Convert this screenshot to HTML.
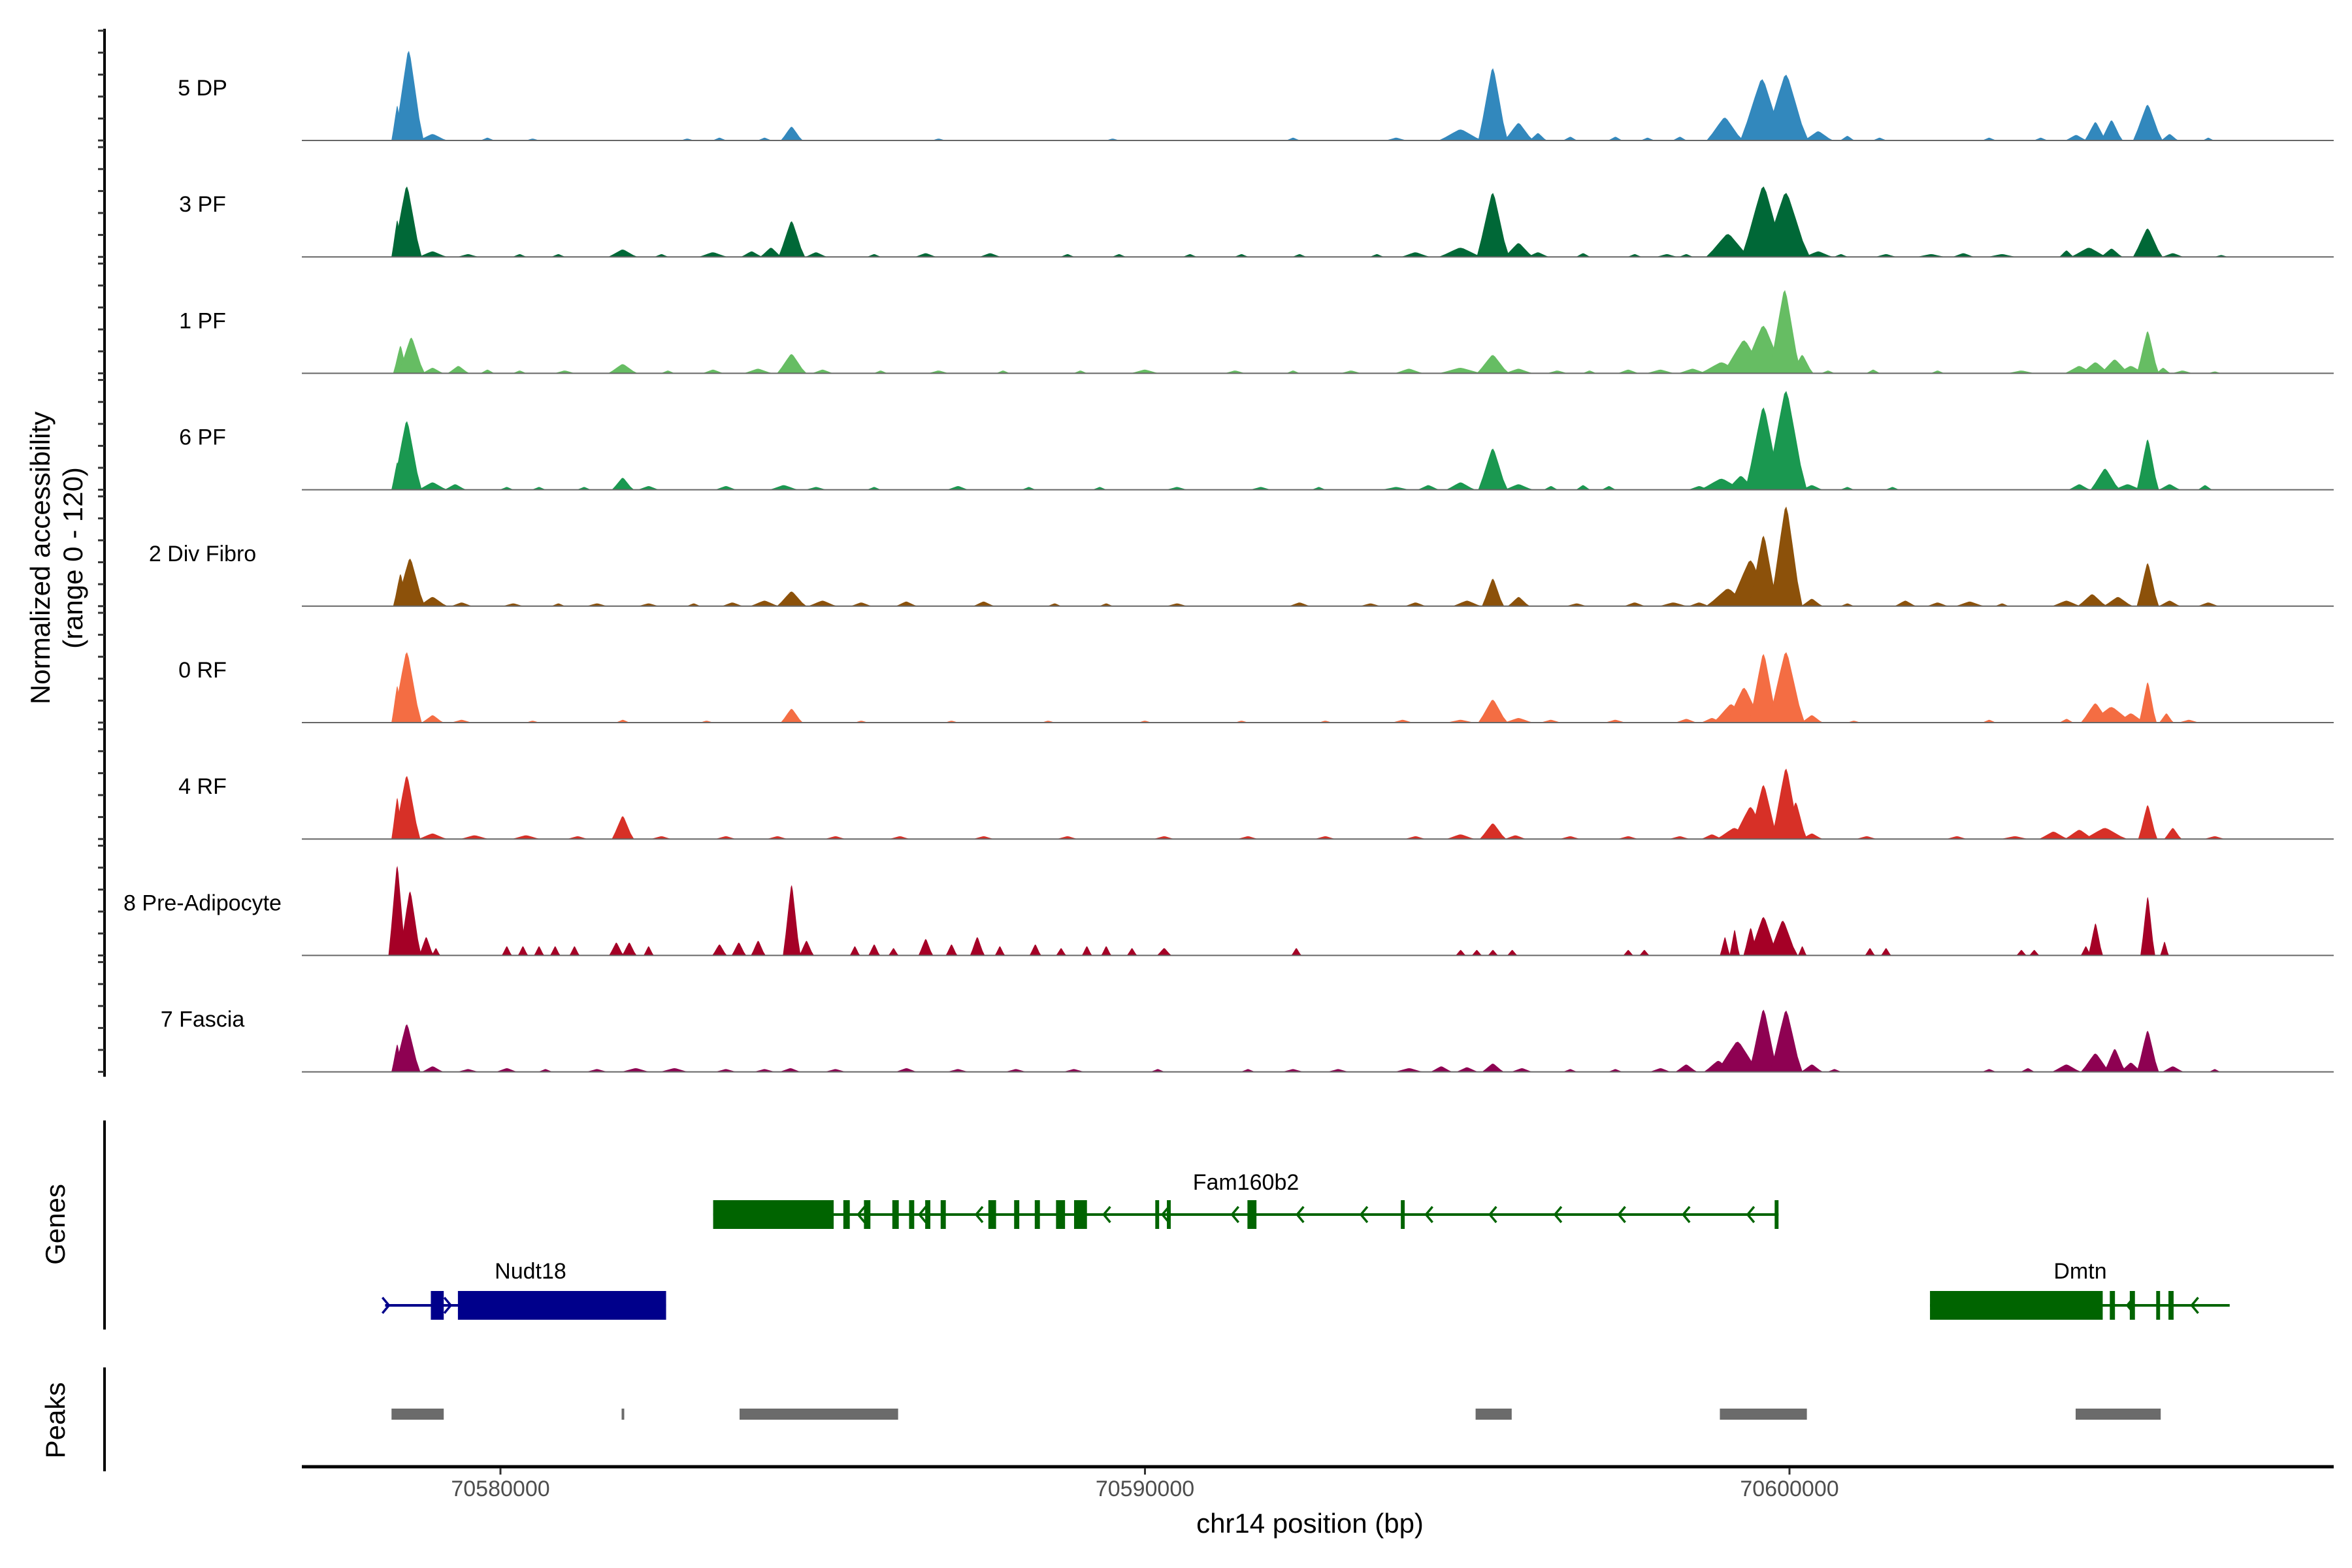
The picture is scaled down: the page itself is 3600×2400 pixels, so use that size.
<!DOCTYPE html>
<html><head><meta charset="utf-8"><style>
html,body{margin:0;padding:0;background:#fff;}
svg{display:block;font-family:"Liberation Sans",Arial,sans-serif;}
</style></head><body>
<svg id="chart" width="3600" height="2400" viewBox="0 0 3600 2400" xmlns="http://www.w3.org/2000/svg">
<g id="yaxis"></g>
<g id="tracks"></g>
<g id="genes"></g>
<g id="peaks"></g>
<g id="xaxis"></g>
<text x="65" y="854" font-size="42" text-anchor="middle" transform="rotate(-90 65 854)" dominant-baseline="middle">Normalized accessibility</text>
<text x="115" y="854" font-size="42" text-anchor="middle" transform="rotate(-90 115 854)" dominant-baseline="middle">(range 0 - 120)</text>
<text x="88" y="1874" font-size="42" text-anchor="middle" transform="rotate(-90 88 1874)" dominant-baseline="middle">Genes</text>
<text x="88" y="2174" font-size="42" text-anchor="middle" transform="rotate(-90 88 2174)" dominant-baseline="middle">Peaks</text>
<text x="2005" y="2346" font-size="42" text-anchor="middle">chr14 position (bp)</text>
</svg>
<script>
// positions in kb offset from chr14:70,570,000 ; peaks as [center_kb, height, halfwidth_kb]
const trackNames = ["5 DP","3 PF","1 PF","6 PF","2 Div Fibro","0 RF","4 RF","8 Pre-Adipocyte","7 Fascia"];
const trackColors = ["#3288bd","#006837","#66bd63","#1a9850","#8c510a","#f46d43","#d73027","#a50026","#8e0152"];
const peaks5DP = [[8.4,38,0.08],[8.58,98,0.2],[8.95,7,0.2],[9.8,3,0.1],[10.5,2,0.1],[12.9,2,0.1],[13.4,3,0.1],[14.1,3,0.1],[14.52,15,0.15],[16.8,2,0.1],[19.5,2,0.1],[22.3,3,0.1],[23.9,3,0.15],[24.9,12,0.3],[25.4,79,0.2],[25.8,19,0.2],[26.1,8,0.12],[26.6,4,0.1],[27.3,4,0.1],[27.8,3,0.1],[28.3,4,0.1],[29.0,25,0.25],[29.58,67,0.3],[29.95,72,0.3],[30.45,10,0.2],[30.9,5,0.1],[31.4,3,0.1],[33.1,3,0.1],[33.9,3,0.1],[34.45,6,0.15],[34.75,20,0.15],[35.0,22,0.15],[35.56,39,0.2],[35.9,7,0.12],[36.5,3,0.08]];
const peaks3PF = [[8.4,40,0.08],[8.55,77,0.2],[8.95,6,0.2],[9.5,3,0.15],[10.3,3,0.1],[10.9,3,0.1],[11.9,8,0.2],[12.5,3,0.1],[13.3,5,0.2],[13.9,6,0.15],[14.2,10,0.15],[14.52,39,0.18],[14.9,5,0.15],[15.8,3,0.1],[16.6,4,0.15],[17.6,4,0.15],[18.8,3,0.1],[19.6,3,0.1],[20.7,3,0.1],[21.5,3,0.1],[22.4,3,0.1],[23.6,3,0.1],[24.2,5,0.2],[24.9,10,0.3],[25.4,70,0.22],[25.8,15,0.2],[26.1,5,0.15],[26.8,4,0.1],[27.6,3,0.1],[28.1,3,0.15],[28.4,3,0.1],[29.05,25,0.3],[29.6,77,0.3],[29.95,70,0.32],[30.45,6,0.2],[30.8,3,0.1],[31.5,3,0.15],[32.2,3,0.2],[32.7,4,0.15],[33.3,3,0.2],[34.3,7,0.1],[34.65,10,0.25],[35.0,9,0.15],[35.56,31,0.2],[35.95,4,0.15],[36.7,2,0.1]];
const peaks1PF = [[8.45,30,0.1],[8.62,39,0.18],[8.95,6,0.15],[9.35,8,0.15],[9.8,4,0.1],[10.3,3,0.1],[11.0,3,0.15],[11.9,10,0.2],[12.6,3,0.1],[13.3,4,0.15],[14.0,5,0.2],[14.52,21,0.2],[15.0,4,0.15],[15.9,3,0.1],[16.8,3,0.15],[17.8,3,0.1],[19.0,3,0.1],[20.0,4,0.2],[21.4,3,0.15],[22.3,3,0.1],[23.2,3,0.15],[24.1,5,0.2],[24.9,6,0.3],[25.4,20,0.22],[25.8,5,0.2],[26.4,3,0.15],[26.9,3,0.1],[27.5,4,0.15],[28.0,4,0.2],[28.5,5,0.2],[28.95,12,0.3],[29.3,36,0.3],[29.6,52,0.3],[29.93,91,0.22],[30.2,20,0.15],[30.6,3,0.1],[31.3,4,0.1],[32.3,3,0.1],[33.6,3,0.2],[34.5,8,0.2],[34.75,12,0.2],[35.05,15,0.2],[35.3,8,0.2],[35.56,46,0.15],[35.8,6,0.1],[36.1,3,0.15],[36.6,2,0.1]];
const peaks6PF = [[8.4,30,0.08],[8.55,75,0.2],[8.95,8,0.2],[9.3,6,0.15],[10.1,3,0.1],[10.6,3,0.1],[11.3,3,0.1],[11.9,13,0.15],[12.3,4,0.15],[13.5,4,0.15],[14.4,5,0.2],[14.9,3,0.15],[15.8,3,0.1],[17.1,4,0.15],[18.2,3,0.1],[19.3,3,0.1],[20.5,3,0.15],[21.8,3,0.15],[22.7,3,0.1],[23.9,3,0.2],[24.4,5,0.15],[24.9,8,0.2],[25.4,45,0.2],[25.8,6,0.2],[26.3,4,0.1],[26.8,5,0.1],[27.2,4,0.1],[28.6,4,0.15],[28.95,12,0.3],[29.25,15,0.2],[29.6,90,0.25],[29.95,108,0.28],[30.35,5,0.15],[30.9,3,0.1],[31.6,3,0.1],[34.5,6,0.15],[34.9,23,0.2],[35.25,6,0.2],[35.56,55,0.15],[35.9,6,0.15],[36.45,5,0.1]];
const peaks2DF = [[8.45,35,0.1],[8.6,52,0.2],[8.95,10,0.2],[9.4,4,0.15],[10.2,3,0.15],[10.9,3,0.1],[11.5,3,0.15],[12.3,3,0.15],[13.0,3,0.1],[13.6,4,0.15],[14.1,6,0.2],[14.52,16,0.2],[15.0,6,0.2],[15.6,4,0.15],[16.3,5,0.15],[17.5,5,0.15],[18.6,3,0.1],[19.4,3,0.1],[20.5,3,0.15],[22.4,4,0.15],[23.5,3,0.15],[24.2,4,0.15],[25.0,6,0.2],[25.4,30,0.15],[25.8,10,0.15],[26.7,3,0.15],[27.6,4,0.15],[28.2,4,0.2],[28.6,4,0.15],[29.05,19,0.3],[29.4,50,0.3],[29.6,77,0.2],[29.95,109,0.22],[30.35,8,0.15],[30.9,3,0.1],[31.8,6,0.15],[32.3,4,0.15],[32.8,5,0.2],[33.3,3,0.1],[34.3,6,0.2],[34.7,13,0.2],[35.1,10,0.2],[35.56,47,0.15],[35.9,6,0.15],[36.5,4,0.15]];
const peaks0RF = [[8.4,40,0.08],[8.55,77,0.2],[8.95,8,0.15],[9.4,3,0.15],[10.5,2,0.1],[11.9,3,0.1],[13.2,2,0.1],[14.52,15,0.15],[15.6,2,0.1],[17.0,2,0.1],[18.5,2,0.1],[20.0,2,0.1],[21.5,2,0.1],[22.8,2,0.1],[24.0,3,0.15],[24.9,3,0.2],[25.4,25,0.2],[25.8,5,0.2],[26.3,3,0.15],[27.3,3,0.15],[28.4,4,0.15],[28.8,5,0.15],[29.1,20,0.25],[29.3,38,0.25],[29.6,75,0.2],[29.95,77,0.25],[30.35,8,0.15],[31.0,2,0.1],[33.1,3,0.1],[34.3,4,0.1],[34.75,21,0.2],[35.0,17,0.3],[35.3,10,0.2],[35.56,44,0.12],[35.85,10,0.1],[36.2,3,0.15]];
const peaks4RF = [[8.4,45,0.08],[8.55,69,0.18],[8.95,6,0.2],[9.6,4,0.2],[10.4,4,0.2],[11.2,3,0.15],[11.9,25,0.15],[12.5,3,0.15],[13.5,3,0.15],[14.3,3,0.15],[15.2,3,0.15],[16.2,3,0.15],[17.5,3,0.15],[18.8,3,0.15],[20.3,3,0.15],[21.6,3,0.15],[22.8,3,0.15],[24.2,3,0.15],[24.9,5,0.2],[25.4,17,0.18],[25.75,4,0.15],[26.6,3,0.15],[27.5,3,0.15],[28.3,3,0.15],[28.8,5,0.15],[29.15,12,0.25],[29.4,35,0.25],[29.6,59,0.2],[29.95,77,0.2],[30.1,40,0.15],[30.35,6,0.15],[31.2,3,0.15],[32.6,3,0.15],[33.5,3,0.2],[34.1,8,0.2],[34.5,10,0.2],[34.9,12,0.3],[35.56,37,0.13],[35.95,12,0.12],[36.6,3,0.15]];
const peaks8PA = [[8.4,98,0.12],[8.6,70,0.15],[8.85,20,0.1],[9.0,8,0.06],[10.1,10,0.07],[10.35,10,0.07],[10.6,10,0.07],[10.85,10,0.07],[11.15,10,0.07],[11.8,14,0.1],[12.0,14,0.1],[12.3,10,0.07],[13.4,12,0.1],[13.7,14,0.1],[14.0,16,0.1],[14.52,77,0.12],[14.75,16,0.1],[15.5,10,0.07],[15.8,12,0.08],[16.1,8,0.07],[16.6,18,0.1],[17.0,12,0.08],[17.4,20,0.1],[17.75,10,0.07],[18.3,12,0.08],[18.7,8,0.07],[19.1,10,0.07],[19.4,10,0.07],[19.8,8,0.07],[20.3,8,0.1],[22.35,8,0.07],[24.9,6,0.07],[25.15,6,0.07],[25.4,6,0.07],[25.7,6,0.07],[27.5,6,0.07],[27.75,6,0.07],[29.0,20,0.07],[29.15,28,0.07],[29.4,30,0.1],[29.6,42,0.2],[29.9,38,0.2],[30.2,10,0.06],[31.25,8,0.07],[31.5,8,0.07],[33.6,6,0.07],[33.8,6,0.07],[34.6,10,0.07],[34.75,35,0.1],[35.56,64,0.1],[35.82,15,0.06]];
const peaks7FA = [[8.4,30,0.08],[8.55,52,0.18],[8.95,6,0.15],[9.5,3,0.15],[10.1,4,0.15],[10.7,3,0.1],[11.5,3,0.15],[12.1,4,0.2],[12.7,4,0.2],[13.5,3,0.15],[14.1,3,0.15],[14.5,4,0.15],[15.2,3,0.15],[16.3,4,0.15],[17.1,3,0.15],[18.0,3,0.15],[18.9,3,0.15],[20.2,3,0.1],[21.6,3,0.1],[22.3,3,0.15],[23.0,3,0.15],[24.1,4,0.2],[24.6,6,0.15],[25.0,5,0.15],[25.4,9,0.15],[25.85,4,0.15],[26.6,3,0.1],[27.3,3,0.1],[28.0,4,0.15],[28.4,8,0.15],[28.9,12,0.2],[29.2,33,0.3],[29.6,68,0.2],[29.95,67,0.22],[30.35,8,0.15],[30.7,3,0.1],[33.1,3,0.1],[33.7,4,0.1],[34.3,8,0.2],[34.75,20,0.2],[35.05,25,0.15],[35.3,10,0.15],[35.56,45,0.15],[35.95,6,0.15],[36.6,3,0.08]];
const trackPeaks = [peaks5DP,peaks3PF,peaks1PF,peaks6PF,peaks2DF,peaks0RF,peaks4RF,peaks8PA,peaks7FA];
const xTicks = [10,20,30];
const xTickLabels = ["70580000","70590000","70600000"];
// genes (kb)
const fam160Exons = [[13.30,15.17],[15.32,15.42],[15.64,15.74],[16.08,16.18],[16.34,16.42],[16.59,16.67],[16.83,16.91],[17.57,17.69],[17.97,18.05],[18.29,18.37],[18.62,18.76],[18.90,19.10],[20.16,20.22],[20.34,20.40],[21.59,21.73],[23.97,24.03],[29.77,29.83]];
const fam160Arrows = [15.55,16.5,17.38,19.36,20.27,21.35,22.36,23.35,24.36,25.35,26.36,27.35,28.35,29.35];
const nudtExons = [[8.92,9.12],[9.34,12.57]];
const nudtArrows = [8.27,9.23];
const dmtnExons = [[32.18,34.86],[34.97,35.05],[35.28,35.36],[35.69,35.75],[35.88,35.96]];
const dmtnArrows = [35.24,36.24];
const peakStarts = [8.31,11.88,13.71,25.13,28.92,34.44];
const peakEnds = [9.12,11.92,16.17,25.69,30.27,35.76];

const NS="http://www.w3.org/2000/svg";
function mk(tag,attrs,parent){const e=document.createElementNS(NS,tag);for(const k in attrs)e.setAttribute(k,attrs[k]);parent.appendChild(e);return e;}
function X(kb){return 766+(kb-10)*98.65;}
const X0=462,X1=3572;
const baselines=[215,393.2,571.4,749.6,927.8,1106,1284.2,1462.4,1640.6];
function Y(v,b){return b-v*1.4;}

const yax=document.getElementById('yaxis');
const ax=mk('line',{x1:160,y1:44,x2:160,y2:1648,stroke:'#000','stroke-width':4},yax);


baselines.forEach((b)=>{for(let k=0;k<=5;k++){const y=Y(k*24,b);const t=mk('line',{x1:150,y1:y,x2:160,y2:y,stroke:'#333','stroke-width':3},yax);

}});

const tg=document.getElementById('tracks');
trackNames.forEach((name,i)=>{
  const b=baselines[i];
  const g=mk('g',{},tg);
  
  
  const lab=mk('text',{x:310,y:b-78,'font-size':34,'text-anchor':'middle','dominant-baseline':'middle'},g);
  lab.textContent=name;
  
  
  trackPeaks[i].forEach(p=>{
    const c=p[0],h=p[1],w=p[2]*1.15;
    const pts=[[X(c-w),b],[X(c-w*0.7),Y(h*0.3,b)],[X(c-w*0.35),Y(h*0.7,b)],[X(c-w*0.1),Y(h*0.97,b)],[X(c),Y(h,b)],[X(c+w*0.12),Y(h*0.92,b)],[X(c+w*0.4),Y(h*0.6,b)],[X(c+w*0.7),Y(h*0.25,b)],[X(c+w),b]];
    const poly=mk('polygon',{points:pts.map(q=>q[0].toFixed(1)+','+q[1].toFixed(1)).join(' '),fill:trackColors[i]},g);
    
    
  });
  const bl=mk('line',{x1:X0,y1:b,x2:X1,y2:b,stroke:'#666','stroke-width':2},g);
  
  
});

// genes
const gg=document.getElementById('genes');
const gl=mk('line',{x1:160,y1:1715,x2:160,y2:2035,stroke:'#000','stroke-width':4},gg);


function drawGene(name,exons,arrows,start,end,yc,color,dir,lx,ly){
  const g=mk('g',{},gg);
  
  
  mk('line',{x1:X(start),y1:yc,x2:X(end),y2:yc,stroke:color,'stroke-width':4},g);
  exons.forEach(e=>{const r=mk('rect',{x:X(e[0]),y:yc-22,width:Math.max(5,X(e[1])-X(e[0])),height:44,fill:color},g);
  
  });
  arrows.forEach(a=>{const x=X(a);const p=mk('polyline',{points:(x+dir*10)+','+(yc-12)+' '+x+','+yc+' '+(x+dir*10)+','+(yc+12),fill:'none',stroke:color,'stroke-width':3.5},g);
  
  });
  const t=mk('text',{x:lx,y:ly,'font-size':34,'text-anchor':'middle','dominant-baseline':'middle'},g);
  t.textContent=name;
  
  
}
drawGene('Fam160b2',fam160Exons,fam160Arrows,13.30,29.83,1859,'#006400',1,1907,1812);
drawGene('Nudt18',nudtExons,nudtArrows,8.21,12.57,1998,'#00008b',-1,812,1948);
drawGene('Dmtn',dmtnExons,dmtnArrows,32.18,36.83,1998,'#006400',1,3184,1948);

// peaks
const pg=document.getElementById('peaks');
const pl=mk('line',{x1:160,y1:2093,x2:160,y2:2252,stroke:'#000','stroke-width':4},pg);


peakStarts.forEach((s,i)=>{const r=mk('rect',{x:X(s),y:2156,width:Math.max(4,X(peakEnds[i])-X(s)),height:17,fill:'#6b6b6b'},pg);

});

// x axis
const xg=document.getElementById('xaxis');
const xl=mk('line',{x1:X0,y1:2245,x2:X1,y2:2245,stroke:'#000','stroke-width':5},xg);


xTicks.forEach((t,i)=>{const x=X(t);
  const tk=mk('line',{x1:x,y1:2247,x2:x,y2:2257,stroke:'#333','stroke-width':3},xg);
  
  
  const tl=mk('text',{x:x,y:2281,'font-size':34,fill:'#4d4d4d','text-anchor':'middle','dominant-baseline':'middle'},xg);
  tl.textContent=xTickLabels[i];
  
  
});
</script>
</body></html>
